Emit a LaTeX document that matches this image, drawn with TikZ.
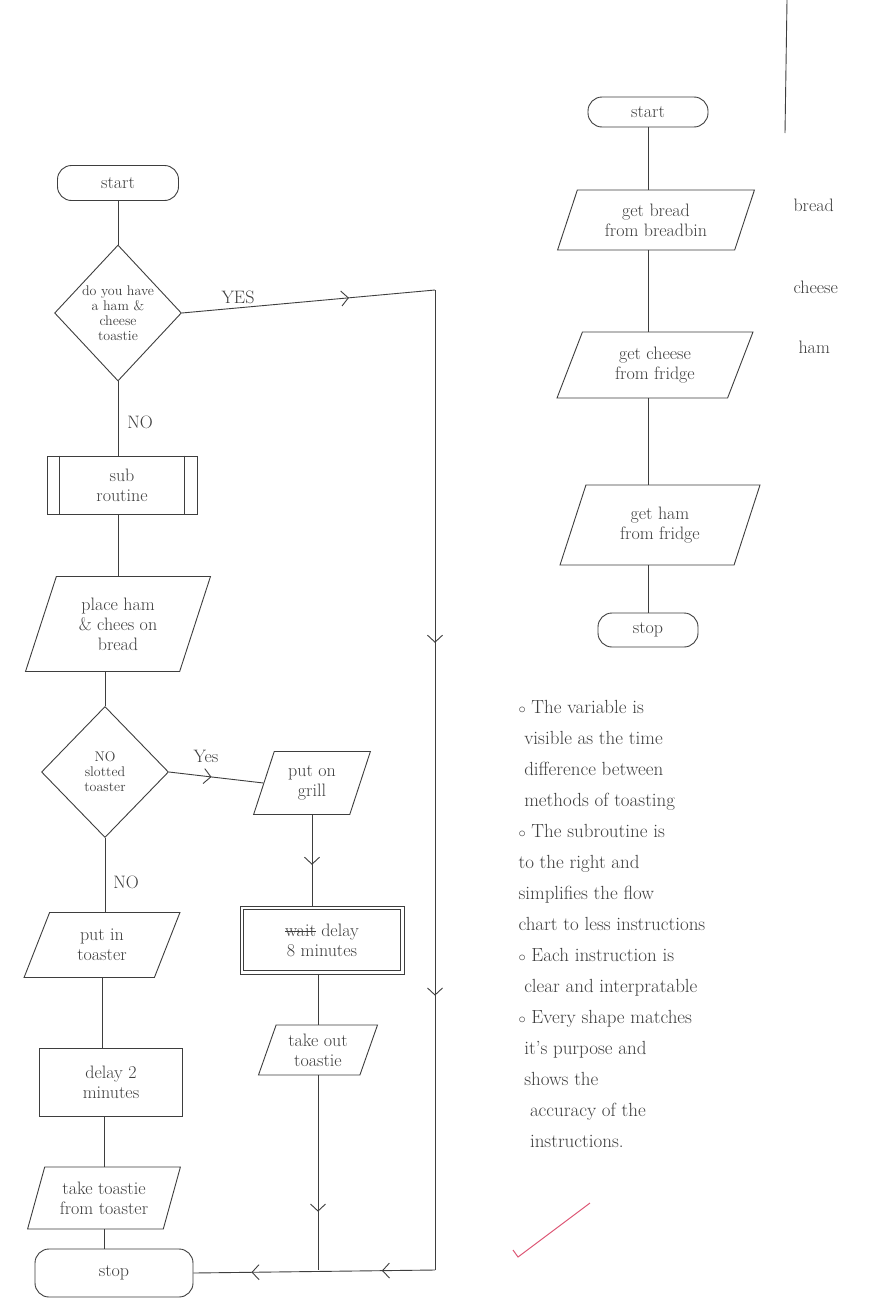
\documentclass[tikz,border=0pt]{standalone}
\definecolor{ink}{RGB}{62, 62, 62}
\definecolor{tickpink}{RGB}{222, 90, 120}
\usetikzlibrary{shapes.geometric, arrows.meta, decorations.markings}
\newcommand{\strikeword}[1]{\setbox0\hbox{#1}\rlap{\rule[0.55ex]{\wd0}{0.7pt}}#1}
\tikzset{
    termbox/.style={rectangle, rounded corners=14pt, draw=ink, line width=0.9pt,
                    inner sep=2pt, align=center, text=ink, font=\fontsize{18}{20}\selectfont},
    decisionbox/.style={diamond, draw=ink, line width=0.9pt, inner sep=0pt, align=center,
                        text=ink, font=\fontsize{14}{15}\selectfont},
    iobox/.style={trapezium, trapezium left angle=70, trapezium right angle=110,
                  trapezium stretches=true, draw=ink, line width=0.9pt, inner sep=2pt,
                  align=center, text=ink, font=\fontsize{18}{20}\selectfont},
    procbox/.style={rectangle, draw=ink, line width=0.9pt, inner sep=2pt, align=center,
                    text=ink, font=\fontsize{18}{20}\selectfont},
    flowline/.style={draw=ink, line width=0.9pt},
    arrowat/.style={postaction={decorate, decoration={markings,
                    mark=at position #1 with {\arrow[ink, line width=0.9pt]{Straight Barb[length=7pt, width=15pt]}}}}},
    labeltext/.style={text=ink, font=\fontsize{18}{20}\selectfont},
    notetext/.style={text=ink, align=left, font=\fontsize{19}{31}\selectfont},
}

\begin{document}
\begin{tikzpicture}[x=1pt, y=-1pt]
    \path[fill=white] (0,0) rectangle (869,1306);
    \useasboundingbox (0,0) rectangle (869,1306);

    % Main flow chart
    \node[termbox, minimum width=121pt, minimum height=35pt] (startL) at (118,183) {start};
    \node[decisionbox, minimum width=126pt, minimum height=136pt] (have) at (118,313)
        {do you have\\a ham \&\\cheese\\toastie};
    \node[procbox, minimum width=150pt, minimum height=58pt] (sub) at (122,485) {sub\\routine};
    \draw[flowline] ([xshift=13pt]sub.north west) -- ([xshift=13pt]sub.south west);
    \draw[flowline] ([xshift=-13pt]sub.north east) -- ([xshift=-13pt]sub.south east);
    \node[iobox, minimum width=185pt, minimum height=95pt] (place) at (118,624)
        {place ham\\\& chees on\\bread};
    \node[decisionbox, minimum width=127pt, minimum height=131pt] (slot) at (105,772)
        {NO\\slotted\\toaster};
    \node[iobox, minimum width=157pt, minimum height=65pt] (toaster) at (102,945) {put in\\toaster};
    \node[procbox, minimum width=143pt, minimum height=68pt] (delay) at (111,1082)
        {delay 2\\minutes};
    \node[iobox, minimum width=153pt, minimum height=62pt] (take) at (104,1198)
        {take toastie\\from toaster};
    \node[termbox, minimum width=158pt, minimum height=48pt] (stopL) at (114,1273) {stop};

    % Grill branch
    \node[iobox, minimum width=117pt, minimum height=63pt] (grill) at (312,783) {put on\\grill};
    \node[procbox, minimum width=164pt, minimum height=68pt] (wait) at (322,940)
        {\strikeword{wait} delay\\8 minutes};
    \draw[flowline] ([xshift=4pt, yshift=-4pt]wait.north west) rectangle ([xshift=-4pt, yshift=4pt]wait.south east);
    \node[iobox, minimum width=120pt, minimum height=50pt] (takeout) at (318,1050)
        {take out\\toastie};

    \coordinate (ycorner) at (435,290);
    \coordinate (ybottom) at (435,1270);

    % Connectors
    \draw[flowline] (startL) -- (have);
    \draw[flowline] (have.south) -- (have.south |- sub.north);
    \draw[flowline] (sub.south -| have.south) -- (place.north -| have.south);
    \draw[flowline] (place.south -| slot.north) -- (slot.north);
    \draw[flowline] (slot.south) -- (slot.south |- toaster.north);
    \draw[flowline] (toaster.south) -- (toaster.south |- delay.north);
    \draw[flowline] (delay.south -| take.north) -- (take.north);
    \draw[flowline] (take.south) -- (take.south |- stopL.north);
    \draw[flowline, arrowat=0.45] (slot.east) -- (grill.west);
    \draw[flowline, arrowat=0.55] (grill.south) -- (grill.south |- wait.north);
    \draw[flowline] (wait.south -| takeout.north) -- (takeout.north);
    \draw[flowline, arrowat=0.7] (takeout.south) -- (takeout.south |- ybottom);
    \draw[flowline, arrowat=0.66] (have.east) -- (ycorner);
    \draw[flowline, arrowat=0.36, arrowat=0.72] (ycorner) -- (ybottom);
    \draw[flowline, arrowat=0.22, arrowat=0.76] (ybottom) -- (stopL.east);

    \node[labeltext] (yesA) at (238,297) {YES};
    \node[labeltext] (noA) at (140,422) {NO};
    \node[labeltext] (yesB) at (206,756) {Yes};
    \node[labeltext] (noB) at (126,882) {NO};

    % Sub routine
    \node[termbox, minimum width=120pt, minimum height=30pt] (startR) at (648,112) {start};
    \node[iobox, minimum width=197pt, minimum height=60pt] (bread) at (656,220)
        {get bread\\from breadbin};
    \node[iobox, minimum width=196pt, minimum height=66pt] (cheese) at (655,365)
        {get cheese\\from fridge};
    \node[iobox, minimum width=200pt, minimum height=80pt] (ham) at (660,525)
        {get ham\\from fridge};
    \node[termbox, minimum width=100pt, minimum height=34pt] (stopR) at (648,630) {stop};

    \draw[flowline] (startR.south) -- (startR.south |- bread.north);
    \draw[flowline] (startR.south |- bread.south) -- (startR.south |- cheese.north);
    \draw[flowline] (startR.south |- cheese.south) -- (startR.south |- ham.north);
    \draw[flowline] (startR.south |- ham.south) -- (stopR.north);

    \node[labeltext, anchor=west] (vbread) at (790,205) {bread};
    \node[labeltext, anchor=west] (vcheese) at (790,287) {cheese};
    \node[labeltext, anchor=west] (vham) at (795,347) {ham};

    \draw[flowline] (787,0) -- (785,133);

    % Notes
    \node[notetext, anchor=north west] (notes) at (515,697)
        {$\scriptstyle\circ$ The variable is\\
         \ visible as the time\\
         \ difference between\\
         \ methods of toasting\\
         $\scriptstyle\circ$ The subroutine is\\
         to the right and\\
         simplifies the flow\\
         chart to less instructions\\
         $\scriptstyle\circ$ Each instruction is\\
         \ clear and interpratable\\
         $\scriptstyle\circ$ Every shape matches\\
         \ it's purpose and\\
         \ shows the\\
         \ \ accuracy of the\\
         \ \ instructions.};

    \draw[tickpink, line width=1pt] (513,1250) -- (518,1257) -- (590,1203);
\end{tikzpicture}
\end{document}
